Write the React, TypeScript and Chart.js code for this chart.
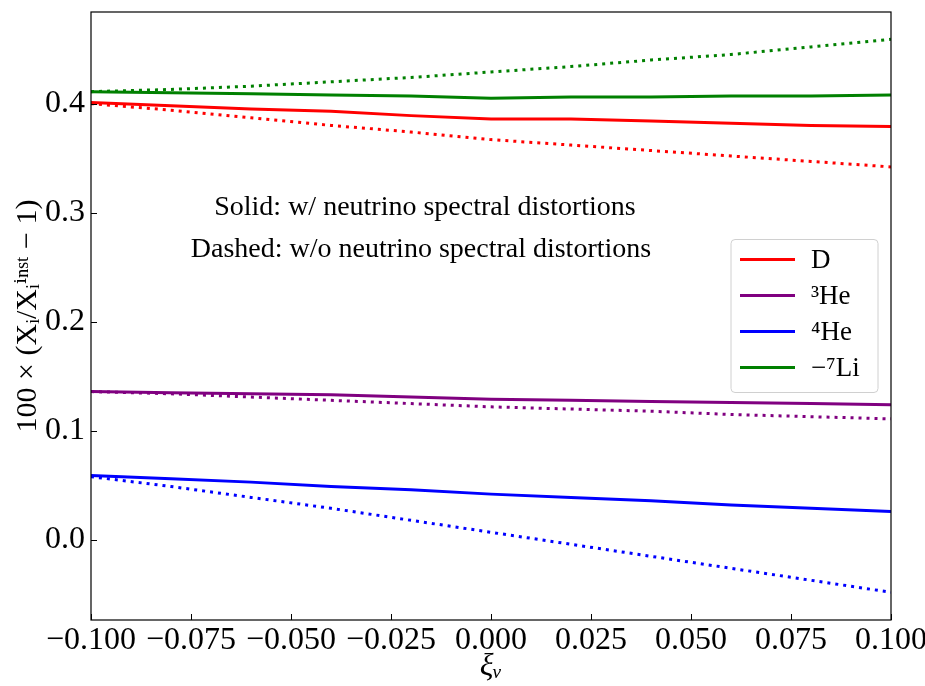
import React, { useEffect, useRef } from "react";
import { Chart, registerables } from "chart.js";

Chart.register(...registerables);

// ---- data ----
const xi = [-0.1, -0.08, -0.06, -0.04, -0.02, 0.0, 0.02, 0.04, 0.06, 0.08, 0.1];

const dSolid = [0.401, 0.398, 0.395, 0.393, 0.389, 0.386, 0.386, 0.384, 0.382, 0.38, 0.379];
const dDashed = [0.4, 0.394, 0.387, 0.38, 0.374, 0.367, 0.362, 0.357, 0.352, 0.347, 0.342];
const he3Solid = [0.136, 0.135, 0.134, 0.133, 0.131, 0.129, 0.128, 0.127, 0.126, 0.125, 0.124];
const he3Dashed = [0.136, 0.134, 0.131, 0.128, 0.125, 0.122, 0.12, 0.118, 0.115, 0.113, 0.111];
const he4Solid = [0.059, 0.056, 0.053, 0.049, 0.046, 0.042, 0.039, 0.036, 0.032, 0.029, 0.026];
const he4Dashed = [0.058, 0.049, 0.039, 0.029, 0.018, 0.007, -0.004, -0.015, -0.026, -0.037, -0.048];
const li7Solid = [0.411, 0.41, 0.409, 0.408, 0.407, 0.405, 0.406, 0.406, 0.407, 0.407, 0.408];
const li7Dashed = [0.411, 0.413, 0.416, 0.42, 0.424, 0.429, 0.434, 0.44, 0.445, 0.452, 0.459];

const seriesLabels = ["D", "³He", "⁴He", "−⁷Li"];
const seriesColors = ["#ff0000", "#800080", "#0000ff", "#008000"];
const solidSeries = [dSolid, he3Solid, he4Solid, li7Solid];
const dashedSeries = [dDashed, he3Dashed, he4Dashed, li7Dashed];

const xTicks = [-0.1, -0.075, -0.05, -0.025, 0.0, 0.025, 0.05, 0.075, 0.1];
const yTicks = [0.0, 0.1, 0.2, 0.3, 0.4];
const xRange = [-0.1, 0.1];
const yRange = [-0.0734, 0.484];

const annotationTexts = [
  "Solid: w/ neutrino spectral distortions",
  "Dashed: w/o neutrino spectral distortions",
];
const xTitle = "ξᵥ";
const yTitle = "100 × (Xᵢ/Xᵢⁱⁿˢᵗ − 1)";

const FONT = '"Liberation Serif", "DejaVu Serif", serif';

const fmt = (v: number, d: number) => {
  const s = Math.abs(v).toFixed(d);
  return v < -1e-9 ? "−" + s : s;
};

const decoPlugin = {
  id: "deco",
  afterDatasetsDraw(chart: any) {
    const { ctx, chartArea: a, scales } = chart;
    const x = scales.x;
    const y = scales.y;
    ctx.save();
    // frame
    ctx.strokeStyle = "#000";
    ctx.lineWidth = 1.2;
    ctx.strokeRect(a.left, a.top, a.right - a.left, a.bottom - a.top);
    // inward ticks
    ctx.lineWidth = 1;
    ctx.beginPath();
    xTicks.forEach((v) => {
      const px = Math.round(x.getPixelForValue(v)) + 0.5;
      ctx.moveTo(px, a.bottom);
      ctx.lineTo(px, a.bottom - 6);
    });
    yTicks.forEach((v) => {
      const py = Math.round(y.getPixelForValue(v)) + 0.5;
      ctx.moveTo(a.left, py);
      ctx.lineTo(a.left + 6, py);
    });
    ctx.stroke();

    // annotations
    ctx.fillStyle = "#000";
    ctx.font = `28px ${FONT}`;
    ctx.textAlign = "center";
    ctx.textBaseline = "middle";
    ctx.fillText(annotationTexts[0], x.getPixelForValue(-0.0165), y.getPixelForValue(0.3045));
    ctx.fillText(annotationTexts[1], x.getPixelForValue(-0.0175), y.getPixelForValue(0.2665));

    // legend (center right)
    const bw = 147;
    const bh = 153;
    const bx = a.right - 13 - bw;
    const by = (a.top + a.bottom) / 2 - bh / 2;
    ctx.beginPath();
    const r = 4;
    ctx.moveTo(bx + r, by);
    ctx.lineTo(bx + bw - r, by);
    ctx.quadraticCurveTo(bx + bw, by, bx + bw, by + r);
    ctx.lineTo(bx + bw, by + bh - r);
    ctx.quadraticCurveTo(bx + bw, by + bh, bx + bw - r, by + bh);
    ctx.lineTo(bx + r, by + bh);
    ctx.quadraticCurveTo(bx, by + bh, bx, by + bh - r);
    ctx.lineTo(bx, by + r);
    ctx.quadraticCurveTo(bx, by, bx + r, by);
    ctx.closePath();
    ctx.fillStyle = "rgba(255,255,255,0.8)";
    ctx.fill();
    ctx.strokeStyle = "#d0d0d0";
    ctx.lineWidth = 1;
    ctx.stroke();
    seriesLabels.forEach((lab, i) => {
      const cy = by + 20 + i * 36;
      ctx.strokeStyle = seriesColors[i];
      ctx.lineWidth = 3;
      ctx.beginPath();
      ctx.moveTo(bx + 9, cy);
      ctx.lineTo(bx + 64, cy);
      ctx.stroke();
      ctx.fillStyle = "#000";
      ctx.font = `27px ${FONT}`;
      ctx.textAlign = "left";
      ctx.textBaseline = "middle";
      ctx.fillText(lab, bx + 80, cy + 1);
    });
    ctx.restore();
  },
};

export default function App() {
  const ref = useRef<HTMLCanvasElement | null>(null);
  useEffect(() => {
    if (!ref.current) return;
    const datasets: any[] = [];
    seriesLabels.forEach((lab, i) => {
      datasets.push({
        label: lab,
        data: xi.map((v, k) => ({ x: v, y: solidSeries[i][k] })),
        borderColor: seriesColors[i],
        backgroundColor: seriesColors[i],
        borderWidth: 3,
        pointRadius: 0,
        tension: 0,
        fill: false,
      });
      datasets.push({
        label: lab + " (dashed)",
        data: xi.map((v, k) => ({ x: v, y: dashedSeries[i][k] })),
        borderColor: seriesColors[i],
        backgroundColor: seriesColors[i],
        borderWidth: 3,
        borderDash: [3, 5],
        borderCapStyle: "butt",
        pointRadius: 0,
        tension: 0,
        fill: false,
      });
    });
    const chart = new Chart(ref.current, {
      type: "line",
      data: { datasets },
      options: {
        animation: false,
        responsive: false,
        maintainAspectRatio: false,
        layout: { padding: { top: 12, right: 34, left: 0, bottom: 0 } },
        plugins: { legend: { display: false }, tooltip: { enabled: false } },
        scales: {
          x: {
            type: "linear",
            min: xRange[0],
            max: xRange[1],
            afterBuildTicks: (s: any) => {
              s.ticks = xTicks.map((v) => ({ value: v }));
            },
            afterFit: (s: any) => {
              s.height = 66;
              s.paddingLeft = 0;
              s.paddingRight = 0;
            },
            grid: { display: false, drawTicks: false },
            border: { display: false },
            ticks: {
              color: "#000",
              padding: 1,
              maxRotation: 0,
              autoSkip: false,
              font: { family: FONT, size: 32 },
              callback: (v: any) => fmt(Number(v), 3),
            },
            title: {
              display: true,
              text: xTitle,
              color: "#000",
              padding: { top: 0, bottom: 0 },
              font: { family: FONT, size: 32, style: "italic" },
            },
          },
          y: {
            type: "linear",
            min: yRange[0],
            max: yRange[1],
            afterBuildTicks: (s: any) => {
              s.ticks = yTicks.map((v) => ({ value: v }));
            },
            afterFit: (s: any) => {
              s.width = 91;
              s.paddingTop = 0;
              s.paddingBottom = 0;
            },
            grid: { display: false, drawTicks: false },
            border: { display: false },
            ticks: {
              color: "#000",
              padding: 6,
              autoSkip: false,
              font: { family: FONT, size: 32 },
              callback: (v: any) => fmt(Number(v), 1),
            },
            title: {
              display: true,
              text: yTitle,
              color: "#000",
              padding: { top: 10, bottom: 0 },
              font: { family: FONT, size: 30 },
            },
          },
        },
      },
      plugins: [decoPlugin],
    });
    return () => chart.destroy();
  }, []);
  return (
    <div style={{ position: "fixed", left: 0, top: 0, width: 925, height: 686, background: "#fff" }}>
      <canvas ref={ref} width={925} height={686} style={{ width: 925, height: 686 }} />
    </div>
  );
}
